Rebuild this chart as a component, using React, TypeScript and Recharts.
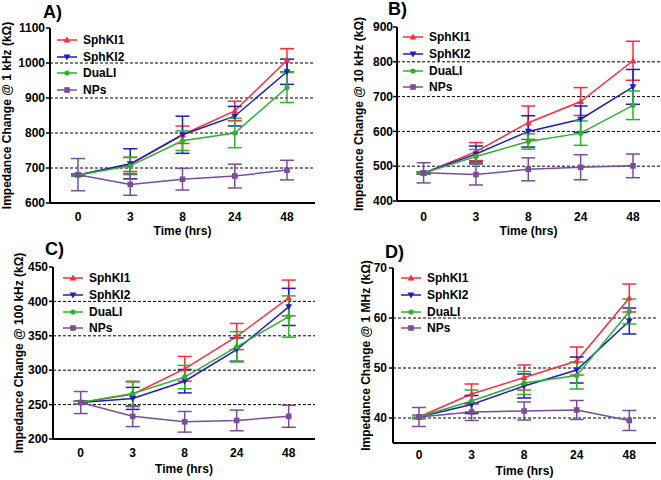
import React from 'react';
import { LineChart, Line, XAxis, YAxis, CartesianGrid, ErrorBar, Legend, Label } from 'recharts';

const FONT = '"Liberation Sans", Arial, sans-serif';

const timeLabels = ['0', '3', '8', '24', '48'];
const seriesNames = ['SphKI1', 'SphKI2', 'DuaLI', 'NPs'];
const seriesColors = ['#FF2A3A', '#1C1CC8', '#2BB42B', '#7A4C9E'];
const seriesMarkers = ['triUp', 'triDown', 'circle', 'square'];

// Panel A: @ 1 kHz
const aSphKI1 = [680, 710, 795, 863, 1008];
const aSphKI1Err = [3, 20, 25, 28, 33];
const aSphKI2 = [680, 712, 795, 848, 975];
const aSphKI2Err = [3, 43, 53, 28, 36];
const aDuaLI = [680, 706, 778, 800, 930];
const aDuaLIErr = [3, 25, 28, 42, 43];
const aNPs = [681, 653, 668, 677, 694];
const aNPsErr = [46, 31, 31, 34, 28];
const aTicks = [600, 700, 800, 900, 1000, 1100];
const aGrid = [700, 800, 900, 1000];

// Panel B: @ 10 kHz
const bSphKI1 = [480, 542, 625, 686, 803];
const bSphKI1Err = [3, 26, 48, 40, 56];
const bSphKI2 = [480, 535, 600, 635, 728];
const bSphKI2Err = [3, 23, 45, 38, 50];
const bDuaLI = [480, 528, 571, 595, 675];
const bDuaLIErr = [3, 20, 22, 35, 41];
const bNPs = [481, 476, 491, 497, 501];
const bNPsErr = [29, 30, 33, 36, 34];
const bTicks = [400, 500, 600, 700, 800, 900];
const bGrid = [500, 600, 700, 800];

// Panel C: @ 100 kHz
const cSphKI1 = [253, 265, 302, 349, 405];
const cSphKI1Err = [2, 18, 18, 19, 26];
const cSphKI2 = [253, 259, 284, 330, 392];
const cSphKI2Err = [2, 16, 17, 17, 27];
const cDuaLI = [253, 266, 290, 334, 378];
const cDuaLIErr = [2, 18, 17, 22, 30];
const cNPs = [253, 233, 225, 227, 233];
const cNPsErr = [16, 15, 15, 15, 16];
const cTicks = [200, 250, 300, 350, 400, 450];
const cGrid = [250, 300, 350, 400];

// Panel D: @ 1 MHz
const dSphKI1 = [40.2, 44.8, 48.1, 51.4, 64.0];
const dSphKI1Err = [0.3, 2.0, 2.5, 2.8, 2.8];
const dSphKI2 = [40.2, 42.7, 46.4, 49.6, 59.4];
const dSphKI2Err = [0.3, 1.8, 2.4, 2.6, 2.6];
const dDuaLI = [40.2, 43.4, 47.0, 48.5, 61.3];
const dDuaLIErr = [0.3, 2.2, 2.3, 2.7, 2.5];
const dNPs = [40.2, 41.2, 41.4, 41.6, 39.5];
const dNPsErr = [1.9, 1.7, 1.8, 1.9, 2.0];
const dTicks = [40, 50, 60, 70];
const dGrid = [40, 50, 60];

function Marker({ type, cx, cy, color }: any) {
  if (type === 'triUp') {
    const s = 3.4;
    return <path d={`M${cx},${cy - s} L${cx + s},${cy + s * 0.75} L${cx - s},${cy + s * 0.75} Z`} fill={color} />;
  }
  if (type === 'triDown') {
    const s = 3.4;
    return <path d={`M${cx},${cy + s} L${cx + s},${cy - s * 0.75} L${cx - s},${cy - s * 0.75} Z`} fill={color} />;
  }
  if (type === 'circle') {
    return <circle cx={cx} cy={cy} r={2.6} fill={color} />;
  }
  return <rect x={cx - 2.8} y={cy - 2.8} width={5.6} height={5.6} fill={color} />;
}

const makeDot = (type: string, color: string) => (props: any) => {
  const { cx, cy, index } = props;
  if (cx == null || cy == null) return <g key={`e${index}`} />;
  return <Marker key={`d${index}`} type={type} cx={cx} cy={cy} color={color} />;
};

const renderLegend = (props: any) => {
  const payload = [...(props.payload || [])].sort(
    (a: any, b: any) => seriesNames.indexOf(a.value) - seriesNames.indexOf(b.value)
  );
  return (
    <div style={{ fontFamily: FONT, fontWeight: 'bold', fontSize: 12, color: '#000' }}>
      {payload.map((entry: any, i: number) => {
        const idx = seriesNames.indexOf(entry.value);
        const color = entry.color;
        return (
          <div key={i} style={{ display: 'flex', alignItems: 'center', height: 16.7 }}>
            <svg width={20} height={10} style={{ display: 'block' }}>
              <line x1={0} y1={5} x2={20} y2={5} stroke={color} strokeWidth={1.5} />
              <Marker type={seriesMarkers[idx]} cx={10} cy={5} color={color} />
            </svg>
            <span style={{ marginLeft: 6, lineHeight: '14px' }}>{entry.value}</span>
          </div>
        );
      })}
    </div>
  );
};

const tickStyle = { fill: '#000', fontSize: 12, fontWeight: 'bold', fontFamily: FONT };
const labelStyle = { fill: '#000', fontSize: 12, fontWeight: 'bold', fontFamily: FONT };

function Panel({ cfg }: any) {
  const data = timeLabels.map((t, i) => ({
    time: t,
    s1: cfg.series[0][i], s1e: cfg.errs[0][i],
    s2: cfg.series[1][i], s2e: cfg.errs[1][i],
    s3: cfg.series[2][i], s3e: cfg.errs[2][i],
    s4: cfg.series[3][i], s4e: cfg.errs[3][i],
  }));
  const keys = ['s1', 's2', 's3', 's4'];
  return (
    <div style={{ position: 'absolute', left: cfg.left, top: cfg.top, width: cfg.width, height: 240 }}>
      <div style={{ position: 'absolute', left: cfg.titleX, top: cfg.titleY, fontFamily: FONT, fontWeight: 'bold', fontSize: 18, lineHeight: '18px', color: '#000', zIndex: 2 }}>
        {cfg.title}
      </div>
      <LineChart width={cfg.width} height={240} data={data} margin={{ top: cfg.mTop, right: cfg.mRight, bottom: 0, left: 0 }}>
        <CartesianGrid horizontal vertical={false} horizontalValues={cfg.grid} stroke="#000" strokeDasharray="3 2" strokeWidth={1} />
        <XAxis
          dataKey="time"
          height={cfg.xH}
          padding={{ left: cfg.padL, right: cfg.padR }}
          axisLine={{ stroke: '#000', strokeWidth: 2 }}
          tickLine={false}
          tickSize={cfg.xTick}
          tickMargin={0}
          interval={0}
          tick={tickStyle}
        >
          <Label value="Time (hrs)" position="insideBottom" offset={cfg.xLabOff} style={labelStyle} />
        </XAxis>
        <XAxis xAxisId="top" orientation="top" dataKey="time" height={0} tick={false} tickLine={false} axisLine={{ stroke: '#000', strokeWidth: 2 }} />
        <YAxis
          type="number"
          width={cfg.yW}
          domain={[cfg.ticks[0] === 40 ? 35 : cfg.ticks[0], cfg.ticks[cfg.ticks.length - 1]]}
          ticks={cfg.ticks}
          interval={0}
          allowDataOverflow
          axisLine={{ stroke: '#000', strokeWidth: 2 }}
          tickLine={{ stroke: '#000', strokeWidth: 1.5 }}
          tickSize={4}
          tickMargin={cfg.yTickMargin}
          tick={tickStyle}
        >
          <Label value={cfg.yLabel} angle={-90} position="insideLeft" offset={cfg.yLabX} style={{ ...labelStyle, textAnchor: 'middle' }} />
        </YAxis>
        <YAxis
          yAxisId="right"
          orientation="right"
          type="number"
          width={0}
          domain={[0, 1]}
          tick={false}
          tickLine={false}
          axisLine={{ stroke: '#000', strokeWidth: 2 }}
        />
        {keys.map((k, i) => (
          <Line
            key={k}
            dataKey={k}
            name={seriesNames[i]}
            stroke={seriesColors[i]}
            strokeWidth={1.5}
            dot={makeDot(seriesMarkers[i], seriesColors[i])}
            activeDot={false}
            isAnimationActive={false}
          >
            <ErrorBar dataKey={`${k}e`} width={7} stroke={seriesColors[i]} strokeWidth={1.5} isAnimationActive={false} />
          </Line>
        ))}
        <Legend
          layout="vertical"
          align="center"
          verticalAlign="middle"
          content={renderLegend}
          wrapperStyle={{ left: cfg.legX, top: cfg.legY, width: 110, height: 70 }}
        />
      </LineChart>
    </div>
  );
}

const panels = [
  {
    title: 'A)', left: 0, top: 0, width: 330, mTop: 28, mRight: 15, yW: 50, xH: 37, padL: 28, padR: 28,
    xTick: 9, xLabOff: 5, yLabX: 7, yTickMargin: 1, legX: 57, legY: 31.7, titleX: 43, titleY: 3,
    yLabel: 'Impedance Change @ 1 kHz (kΩ)', ticks: aTicks, grid: aGrid,
    series: [aSphKI1, aSphKI2, aDuaLI, aNPs], errs: [aSphKI1Err, aSphKI2Err, aDuaLIErr, aNPsErr],
  },
  {
    title: 'B)', left: 330, top: 0, width: 331, mTop: 27, mRight: 1, yW: 67, xH: 39, padL: 26.6, padR: 27,
    xTick: 11, xLabOff: 5.5, yLabX: 29, yTickMargin: 0, legX: 73, legY: 29, titleX: 58, titleY: 0,
    yLabel: 'Impedance Change @ 10 kHz (kΩ)', ticks: bTicks, grid: bGrid,
    series: [bSphKI1, bSphKI2, bDuaLI, bNPs], errs: [bSphKI1Err, bSphKI2Err, bDuaLIErr, bNPsErr],
  },
  {
    title: 'C)', left: 0, top: 240, width: 330, mTop: 27, mRight: 15, yW: 53, xH: 41, padL: 27.7, padR: 26.3,
    xTick: 9, xLabOff: 7, yLabX: 19, yTickMargin: 1, legX: 63, legY: 30, titleX: 45, titleY: 0,
    yLabel: 'Impedance Change @ 100 kHz (kΩ)', ticks: cTicks, grid: cGrid,
    series: [cSphKI1, cSphKI2, cDuaLI, cNPs], errs: [cSphKI1Err, cSphKI2Err, cDuaLIErr, cNPsErr],
  },
  {
    title: 'D)', left: 330, top: 240, width: 331, mTop: 28, mRight: 5, yW: 63, xH: 37, padL: 26, padR: 26.7,
    xTick: 7, xLabOff: 5, yLabX: 36, yTickMargin: 2, legX: 71, legY: 30, titleX: 55, titleY: 3,
    yLabel: 'Impedance Change @ 1 MHz (kΩ)', ticks: dTicks, grid: dGrid,
    series: [dSphKI1, dSphKI2, dDuaLI, dNPs], errs: [dSphKI1Err, dSphKI2Err, dDuaLIErr, dNPsErr],
  },
];

export default function App() {
  return (
    <div style={{ position: 'absolute', left: 0, top: 0, width: 661, height: 480, background: '#fff', overflow: 'hidden' }}>
      {panels.map((p) => (
        <Panel key={p.title} cfg={p} />
      ))}
    </div>
  );
}
